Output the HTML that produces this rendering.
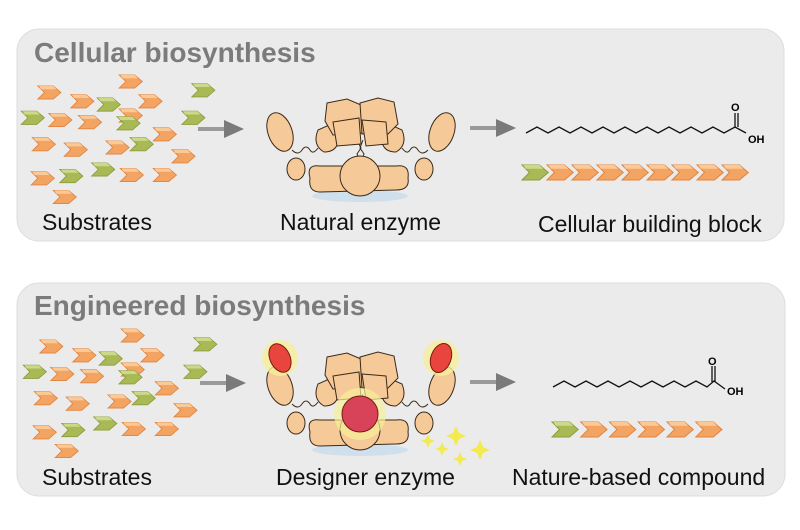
<!DOCTYPE html>
<html><head><meta charset="utf-8"><style>
html,body{margin:0;padding:0;background:#fff;}
svg{display:block}
text{font-family:"Liberation Sans",sans-serif;}
</style></head><body>
<svg width="800" height="530" viewBox="0 0 800 530" xmlns="http://www.w3.org/2000/svg">
<defs>
<g id="co"><path d="M0,0 H14 L21,6 L14,12 H0 L6,6 Z" fill="#f4a462" stroke="#e08440" stroke-width="0.8"/><path d="M1,0 H14 L17,3 H3 Z" fill="#fbc995"/></g>
<g id="cg"><path d="M0,0 H14 L21,6 L14,12 H0 L6,6 Z" fill="#a9b956" stroke="#8d9d3c" stroke-width="0.8"/><path d="M1,0 H14 L17,3 H3 Z" fill="#cdd98a"/></g>
<g id="subs0">
<use href="#co" x="38" y="89"/><use href="#co" x="68" y="97"/><use href="#co" x="112" y="79"/><use href="#co" x="130" y="97"/>
<use href="#co" x="48" y="114"/><use href="#co" x="75" y="116"/><use href="#co" x="112" y="110"/><use href="#co" x="33" y="136"/>
<use href="#co" x="62" y="141"/><use href="#co" x="100" y="139"/><use href="#co" x="143" y="127"/><use href="#co" x="160" y="147"/>
<use href="#co" x="32" y="167"/><use href="#co" x="113" y="164"/><use href="#co" x="143" y="164"/><use href="#co" x="52" y="184"/>
<use href="#cg" x="23" y="112"/><use href="#cg" x="92" y="100"/><use href="#cg" x="110" y="117"/><use href="#cg" x="178" y="87"/>
<use href="#cg" x="169" y="112"/><use href="#cg" x="122" y="136"/><use href="#cg" x="58" y="165"/><use href="#cg" x="87" y="159"/>
</g>
<g id="subs"><g transform="translate(-4,-12) scale(1.1)"><use href="#subs0"/></g></g>
<g id="enz" stroke="#3a2a1a" stroke-width="1" fill="#f6c998">
<ellipse cx="360" cy="196" rx="48" ry="6" fill="#cfe0ec" stroke="none"/>
<path d="M292,150 q6,6 10,0 q4,-6 8,0 q3,5 8,-2" fill="none"/>
<path d="M428,150 q-6,6 -10,0 q-4,-6 -8,0 q-3,5 -8,-2" fill="none"/>
<path d="M357,140 l4,8 l-4,6 l4,8 M363,140 l-3,8 l4,6 l-3,8" fill="none"/>
<ellipse cx="280" cy="132" rx="12" ry="20" transform="rotate(-20 280 132)"/>
<ellipse cx="296" cy="169" rx="9" ry="11"/>
<ellipse cx="442" cy="132" rx="12" ry="20" transform="rotate(20 442 132)"/>
<ellipse cx="424" cy="169" rx="9" ry="11"/>
<path d="M318,130 q-6,15 6,22 q12,0 14,-10 l-2,-20 z"/>
<path d="M402,130 q6,15 -6,22 q-12,0 -14,-10 l2,-20 z"/>
<path d="M327,103 l20,-4 l14,6 l2,28 l-30,2 l-8,-14 z"/>
<path d="M360,103 l18,-5 l16,4 l4,22 l-10,10 l-26,0 z"/>
<path d="M333,122 l26,-4 l2,26 l-24,2 z"/>
<path d="M362,120 l24,2 l2,22 l-22,2 z"/>
<path d="M310,178 q-4,-14 10,-12 l76,0 q14,-2 12,12 q2,12 -12,12 l-76,2 q-12,0 -10,-14 z"/>
<circle cx="360" cy="176" r="20"/>
</g>
<g id="arr"><rect x="0" y="-2" width="28" height="4" fill="#9a9a9a"/><path d="M26,-9 L46,0 L26,9 Z" fill="#7a7a7a"/></g>
</defs>

<rect x="17" y="29" width="767" height="212" rx="22" fill="#ebebeb" stroke="#dedede"/>
<rect x="17" y="283" width="768" height="213" rx="22" fill="#ebebeb" stroke="#dedede"/>

<text x="34" y="62" font-size="28" font-weight="bold" fill="#7b7b7b">Cellular biosynthesis</text>
<text x="34" y="315" font-size="28" font-weight="bold" fill="#7b7b7b">Engineered biosynthesis</text>

<use href="#subs"/>
<use href="#subs" x="2" y="254"/>

<use href="#arr" x="198" y="129"/>
<use href="#arr" x="470" y="128"/>
<use href="#arr" x="200" y="383"/>
<use href="#arr" x="470" y="382"/>

<use href="#enz"/>
<g transform="translate(0,254)">
<use href="#enz"/>
<circle cx="280" cy="104" r="18" fill="#f6ef9a" opacity="0.8"/>
<ellipse cx="280" cy="104" rx="10" ry="15" transform="rotate(-25 280 104)" fill="#e8463c" stroke="#7a1a10"/>
<circle cx="441" cy="104" r="18" fill="#f6ef9a" opacity="0.8"/>
<ellipse cx="441" cy="104" rx="10" ry="15" transform="rotate(20 441 104)" fill="#e8463c" stroke="#7a1a10"/>
<circle cx="360" cy="160" r="26" fill="#f6ef9a" opacity="0.7"/>
<circle cx="360" cy="160" r="18" fill="#d9435a" stroke="#7a1a10"/>
<g fill="#f3ea50">
<path d="M428,180 l2,5 l5,2 l-5,2 l-2,5 l-2,-5 l-5,-2 l5,-2z"/>
<path d="M456,172 l3,7 l7,3 l-7,3 l-3,7 l-3,-7 l-7,-3 l7,-3z"/>
<path d="M442,188 l2,5 l5,2 l-5,2 l-2,5 l-2,-5 l-5,-2 l5,-2z"/>
<path d="M480,186 l3,7 l7,3 l-7,3 l-3,7 l-3,-7 l-7,-3 l7,-3z"/>
<path d="M460,198 l2,5 l5,2 l-5,2 l-2,5 l-2,-5 l-5,-2 l5,-2z"/>
</g>
</g>

<polyline fill="none" stroke="#111" stroke-width="1.3" points="526,133 537,127 548,133 559,127 570,133 581,127 592,133 603,127 614,133 625,127 636,133 647,127 658,133 669,127 680,133 691,127 702,133 713,127 724,133 735,127 746,133"/>
<line x1="735" y1="127" x2="735" y2="113" stroke="#111" stroke-width="1.3"/><line x1="738" y1="127" x2="738" y2="113" stroke="#111" stroke-width="1.3"/>
<text x="731" y="111" font-size="11" font-weight="bold">O</text>
<text x="748" y="143" font-size="11" font-weight="bold">OH</text>
<polyline fill="none" stroke="#111" stroke-width="1.3" points="553,387 564,381 575,387 586,381 597,387 608,381 619,387 630,381 641,387 652,381 663,387 674,381 685,387 696,381 707,387 714,381 725,389"/>
<line x1="712" y1="382" x2="712" y2="366" stroke="#111" stroke-width="1.3"/><line x1="715" y1="382" x2="715" y2="366" stroke="#111" stroke-width="1.3"/>
<text x="708" y="365" font-size="11" font-weight="bold">O</text>
<text x="727" y="395" font-size="11" font-weight="bold">OH</text>

<g transform="translate(522,165) scale(1.25)">
<use href="#cg" x="0" y="0"/><use href="#co" x="20" y="0"/><use href="#co" x="40" y="0"/><use href="#co" x="60" y="0"/><use href="#co" x="80" y="0"/><use href="#co" x="100" y="0"/><use href="#co" x="120" y="0"/><use href="#co" x="140" y="0"/><use href="#co" x="160" y="0"/>
</g>
<g transform="translate(552,422) scale(1.25)">
<use href="#cg" x="0" y="0"/><use href="#co" x="23" y="0"/><use href="#co" x="46" y="0"/><use href="#co" x="69" y="0"/><use href="#co" x="92" y="0"/><use href="#co" x="115" y="0"/>
</g>

<text x="42" y="230" font-size="23" fill="#111">Substrates</text>
<text x="280" y="230" font-size="23" fill="#111">Natural enzyme</text>
<text x="538" y="232" font-size="23" fill="#111">Cellular building block</text>
<text x="42" y="485" font-size="23" fill="#111">Substrates</text>
<text x="276" y="485" font-size="23" fill="#111">Designer enzyme</text>
<text x="512" y="485" font-size="23" fill="#111">Nature-based compound</text>
</svg>
</body></html>
